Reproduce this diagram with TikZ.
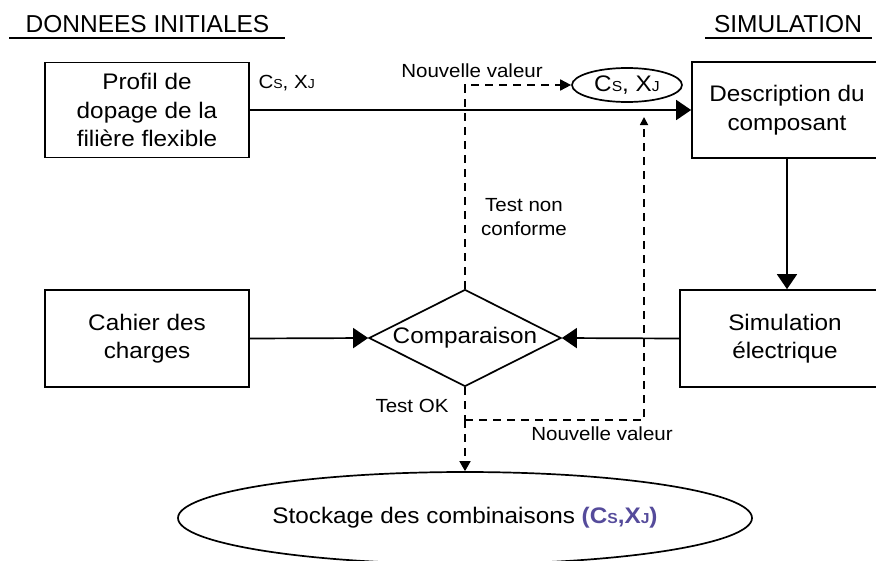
\documentclass[tikz,border=0pt]{standalone}
\usepackage{fontspec}
\setmainfont{Liberation Sans}[FakeStretch=1.08]
\newfontfamily\titrefont{Liberation Sans}
\usetikzlibrary{arrows.meta,shapes.geometric}
\definecolor{mauve}{RGB}{85,75,155}
\newcommand{\corps}{\fontsize{22.5}{28.5}\selectfont}
\newcommand{\legende}{\fontsize{19}{24}\selectfont}
\newcommand{\titre}{\titrefont\fontsize{24.5}{27}\selectfont}
\newcommand{\petit}[2][14.5]{{\fontsize{#1}{#1}\selectfont #2}}

\begin{document}
\begin{tikzpicture}[x=1pt,y=-1pt,
    boite/.style={draw,line width=1.7pt,minimum height=95pt,align=center,font=\corps},
    losange/.style={draw,diamond,aspect=2,inner sep=0pt,line width=1.7pt,
        minimum width=192pt,minimum height=97pt,font=\corps},
    bulle/.style={draw,ellipse,line width=1.7pt,inner sep=0pt,font=\corps},
    fleche/.style={line width=1.7pt,-{Triangle[length=15pt,width=20pt]}},
    tiret/.style={line width=1.7pt,dash pattern=on 8pt off 6pt},
    etiquette/.style={font=\legende,align=center}]
        \clip (0,0) rectangle (876,560);
        % titres
        \node[font=\titre,anchor=base] (tdon) at (147.5,32) {DONNEES INITIALES};
        \node[font=\titre,anchor=base] (tsim) at (788,32) {SIMULATION};
        \draw[line width=2pt] (9,38) -- (285,38);
        \draw[line width=2pt] (705,38) -- (872,38);

        % blocs
        \node[boite,minimum width=204pt] (profil) at (147,110) {Profil de\\dopage de la\\filière flexible};
        \node[boite,minimum width=190pt,minimum height=96pt] (descr) at (787,110) {Description du\\composant};
        \node[boite,minimum width=204pt,minimum height=97pt] (cahier) at (147,338.5) {Cahier des\\charges};
        \node[boite,minimum width=210pt,minimum height=97pt] (simul) at (785,338.5) {Simulation\\électrique};
        \node[losange] (comp) at (465,338) {Comparaison};
        \node[bulle,minimum width=110pt,minimum height=34pt] (cs) at (627,85) {C\petit{S}, X\petit{J}};
        \node[bulle,minimum width=574pt,minimum height=92pt] (stock) at (465,518)
            {Stockage des combinaisons \textcolor{mauve}{\textbf{(C\petit{S},X\petit{J})}}};

        % liens
        \draw[fleche] (profil.east) -- (descr.west);
        \draw[fleche] (descr.south) -- (descr.south |- simul.north);
        \draw[fleche] (simul.west) -- (comp.east);
        \draw[fleche] (cahier.east) -- (comp.west);

        % boucles en pointille
        \coordinate (haut) at (comp.north |- cs.west);
        \coordinate (ok) at (465,420);
        \coordinate (coin) at (644,420);
        \coordinate (retour) at (644,117);
        \draw[tiret,-{Triangle[length=11pt,width=11pt]}] (comp.north) -- (haut) -- (cs.west);
        \draw[tiret] (comp.south) -- (ok);
        \draw[tiret,-{Triangle[length=8pt,width=8pt]}] (ok) -- (coin) -- (retour);
        \draw[tiret,-{Triangle[length=10pt,width=11pt]}] (ok) -- (stock.north);

        % etiquettes
        \node[etiquette,anchor=base west] (lcs) at (255,88) {C\petit[13]{S}, X\petit[13]{J}};
        \node[etiquette,anchor=base] (nv1) at (472,77) {Nouvelle valeur};
        \node[etiquette] (nonconf) at (524,217) {Test non\\conforme};
        \node[etiquette,anchor=base] (tok) at (412,412) {Test OK};
        \node[etiquette,anchor=base] (nv2) at (602,440) {Nouvelle valeur};
\end{tikzpicture}
\end{document}
